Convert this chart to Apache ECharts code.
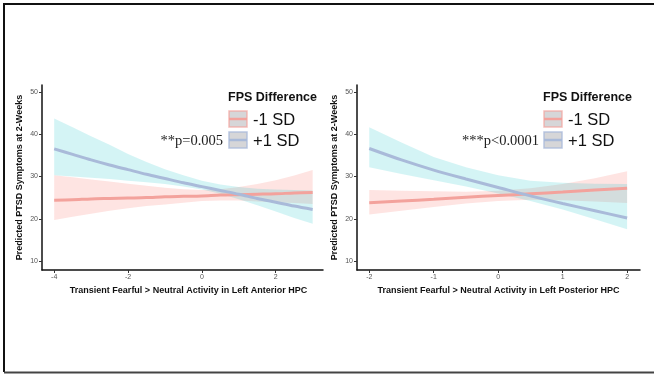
<!DOCTYPE html>
<html>
<head>
<meta charset="utf-8">
<script src="https://cdn.jsdelivr.net/npm/echarts@6/dist/echarts.min.js"></script>
<style>
  html, body { margin: 0; padding: 0; background: #fff; }
  #chart { width: 654px; height: 374px; }
</style>
</head>
<body>
<div id="chart"></div>
<script>
// left panel: anterior HPC
const antX = [-4, -3.5, -3, -2.5, -2, -1.5, -1, -0.5, 0, 0.5, 1, 1.5, 2, 2.5, 3];
const antLowLine = [24.4, 24.5, 24.7, 24.8, 24.9, 25.0, 25.2, 25.3, 25.4, 25.6, 25.7, 25.8, 25.9, 26.1, 26.2];
const antLowUpper = [30.3, 29.8, 29.3, 28.8, 28.3, 27.8, 27.3, 27.0, 26.8, 27.0, 27.5, 28.2, 29.1, 30.2, 31.5];
const antLowLower = [19.7, 20.5, 21.2, 21.9, 22.5, 23.0, 23.4, 23.8, 24.2, 24.3, 24.3, 24.1, 23.9, 23.7, 23.5];
const antHighLine = [36.5, 35.2, 33.9, 32.7, 31.6, 30.5, 29.5, 28.5, 27.6, 26.7, 25.8, 24.8, 23.9, 23.0, 22.2];
const antHighUpper = [43.7, 41.6, 39.5, 37.5, 35.3, 33.4, 31.7, 30.3, 29.0, 28.1, 27.5, 27.1, 26.9, 26.8, 26.7];
const antHighLower = [30.3, 30.0, 29.7, 29.4, 29.0, 28.6, 28.2, 27.6, 26.9, 25.9, 24.6, 23.2, 21.7, 20.2, 18.8];

// right panel: posterior HPC
const postX = [-2, -1.5, -1, -0.5, 0, 0.5, 1, 1.5, 2];
const postLowLine = [23.8, 24.2, 24.6, 25.1, 25.5, 25.9, 26.3, 26.8, 27.2];
const postLowUpper = [26.8, 26.6, 26.5, 26.4, 26.6, 27.2, 28.2, 29.6, 31.2];
const postLowLower = [21.0, 21.9, 22.8, 23.6, 24.2, 24.5, 24.4, 24.1, 23.7];
const postHighLine = [36.6, 33.9, 31.5, 29.4, 27.4, 25.4, 23.6, 21.9, 20.2];
const postHighUpper = [41.6, 38.0, 34.6, 32.2, 30.3, 29.0, 28.5, 28.3, 28.2];
const postHighLower = [32.2, 30.6, 29.1, 27.6, 26.0, 24.2, 22.2, 19.9, 17.5];

const yTicks = [10, 20, 30, 40, 50];
const antTicks = [-4, -2, 0, 2];
const postTicks = [-2, -1, 0, 1, 2];
const legendTitle = 'FPS Difference';
const groupNames = ['-1 SD', '+1 SD'];
const antP = '**p=0.005';
const postP = '***p<0.0001';
const yName = 'Predicted PTSD Symptoms at 2-Weeks';
const antName = 'Transient Fearful > Neutral Activity in Left Anterior HPC';
const postName = 'Transient Fearful > Neutral Activity in Left Posterior HPC';

const PINK_BAND = 'rgba(248,118,109,0.2)';
const CYAN_BAND = 'rgba(0,191,196,0.17)';
const PINK_LINE = '#F3A29C';
const BLUE_LINE = '#A9BAD9';
const SANS = '"Liberation Sans", Arial, sans-serif';

const myChart = echarts.init(document.getElementById('chart'));

function band(xs, lo, hi, color, idx) {
    return {
        type: 'custom',
        xAxisIndex: idx,
        yAxisIndex: idx,
        silent: true,
        z: 1,
        data: xs.map((x, i) => [x, lo[i], hi[i]]),
        encode: { x: 0, y: [1, 2] },
        renderItem: function (params, api) {
            if (params.dataIndex !== 0) return null;
            const top = xs.map((x, i) => api.coord([x, hi[i]]));
            const bot = xs.map((x, i) => api.coord([x, lo[i]])).reverse();
            return {
                type: 'polygon',
                shape: { points: top.concat(bot) },
                style: { fill: color }
            };
        }
    };
}

function line(xs, ys, color, idx) {
    return {
        type: 'line',
        xAxisIndex: idx,
        yAxisIndex: idx,
        data: xs.map((x, i) => [x, ys[i]]),
        showSymbol: false,
        smooth: 0.3,
        silent: true,
        z: 3,
        lineStyle: { color: color, width: 3 }
    };
}

function xAxis(idx, min, max, ticks, name, pad) {
    return {
        gridIndex: idx,
        type: 'value',
        min: min,
        max: max,
        splitLine: { show: false },
        axisLine: { onZero: false, lineStyle: { color: '#111', width: 1.5 } },
        axisTick: { customValues: ticks, length: 3, lineStyle: { color: '#333' } },
        axisLabel: { customValues: ticks, fontSize: 7, color: '#555', margin: 4, fontFamily: SANS },
        name: name,
        nameLocation: 'middle',
        nameGap: 16,
        nameTextStyle: { fontSize: 9, fontWeight: 'bold', color: '#111', fontFamily: SANS, padding: pad }
    };
}

function yAxis(idx) {
    return {
        gridIndex: idx,
        type: 'value',
        min: 7.9,
        max: 51.6,
        splitLine: { show: false },
        axisLine: { show: true, onZero: false, lineStyle: { color: '#111', width: 1.5 } },
        axisTick: { show: true, customValues: yTicks, length: 3, lineStyle: { color: '#333' } },
        axisLabel: { customValues: yTicks, fontSize: 7, color: '#555', margin: 4, fontFamily: SANS },
        name: yName,
        nameLocation: 'middle',
        nameRotate: 90,
        nameGap: 18,
        nameTextStyle: { fontSize: 9, fontWeight: 'bold', color: '#111', fontFamily: SANS }
    };
}

function legendBits(x0, pText, pRight) {
    const keys = [[PINK_LINE, 'rgba(243,162,156,0.7)'], [BLUE_LINE, 'rgba(169,185,219,0.8)']];
    const out = [{
        type: 'text', x: x0, y: 98,
        style: { text: legendTitle, font: 'bold 12.5px ' + SANS, fill: '#111', align: 'left', verticalAlign: 'middle' }
    }];
    keys.forEach((k, i) => {
        const ky = 111 + i * 21;
        out.push({
            type: 'rect', shape: { x: x0 + 1, y: ky, width: 18, height: 16 },
            style: { fill: '#D6D6D8', stroke: k[1], lineWidth: 1.5 }
        });
        out.push({
            type: 'line', shape: { x1: x0 + 1, y1: ky + 8, x2: x0 + 19, y2: ky + 8 },
            style: { stroke: k[0], lineWidth: 2.5 }
        });
        out.push({
            type: 'text', x: x0 + 25, y: ky + 9,
            style: { text: groupNames[i], font: '16.5px ' + SANS, fill: '#111', align: 'left', verticalAlign: 'middle' }
        });
    });
    out.push({
        type: 'text', x: pRight, y: 141,
        style: { text: pText, font: '14.5px "Liberation Serif", "Times New Roman", serif', fill: '#222', align: 'right', verticalAlign: 'middle' }
    });
    return out;
}

const option = {
    animation: false,
    backgroundColor: '#fff',
    grid: [
        { left: 42, top: 85, width: 281, height: 185 },
        { left: 357, top: 85, width: 283, height: 185 }
    ],
    xAxis: [
        xAxis(0, -4.33, 3.28, antTicks, antName, [0, 0, 0, 12]),
        xAxis(1, -2.19, 2.20, postTicks, postName, 0)
    ],
    yAxis: [yAxis(0), yAxis(1)],
    graphic: [
        { type: 'polyline', shape: { points: [[654, 4], [4, 4], [4, 372]] }, style: { stroke: '#111', lineWidth: 2, fill: null } },
        { type: 'line', shape: { x1: 4, y1: 372.5, x2: 654, y2: 372.5 }, style: { stroke: '#444', lineWidth: 2 } }
    ].concat(legendBits(228, antP, 223), legendBits(543, postP, 539)),
    series: [
        band(antX, antLowLower, antLowUpper, PINK_BAND, 0),
        band(antX, antHighLower, antHighUpper, CYAN_BAND, 0),
        line(antX, antLowLine, PINK_LINE, 0),
        line(antX, antHighLine, BLUE_LINE, 0),
        band(postX, postLowLower, postLowUpper, PINK_BAND, 1),
        band(postX, postHighLower, postHighUpper, CYAN_BAND, 1),
        line(postX, postLowLine, PINK_LINE, 1),
        line(postX, postHighLine, BLUE_LINE, 1)
    ]
};

myChart.setOption(option);
</script>
</body>
</html>
